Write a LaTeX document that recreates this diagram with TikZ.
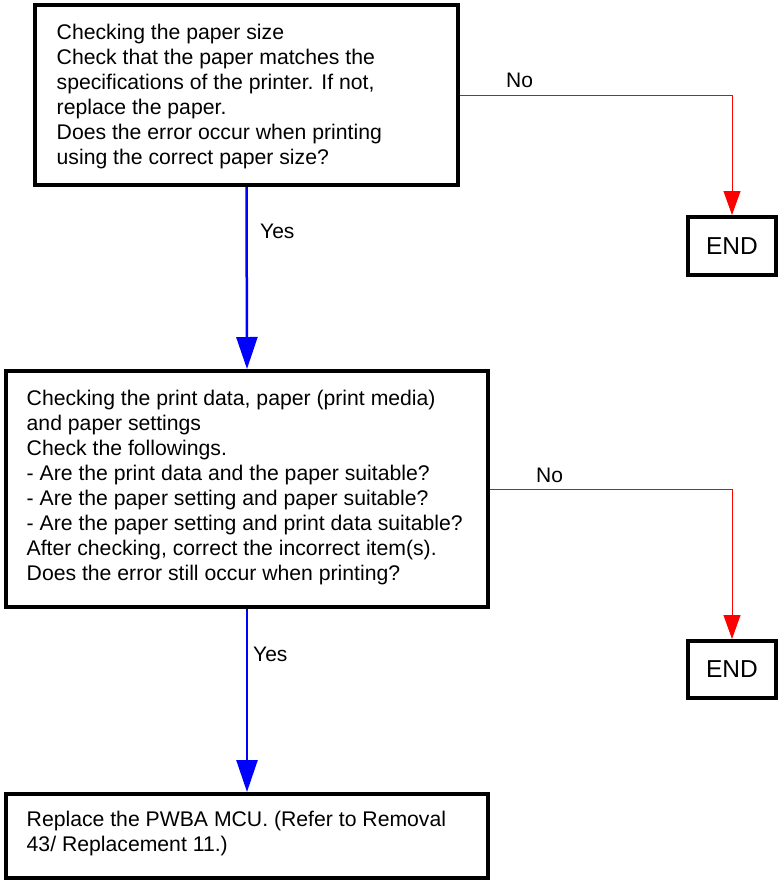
\documentclass[tikz,border=0pt]{standalone}
\usepackage{fontspec}
\setmainfont{Liberation Sans}
\usetikzlibrary{arrows.meta}
\begin{document}
\begin{tikzpicture}[x=1pt,y=-1pt,
  box/.style={draw=black, line width=4pt, rectangle, inner sep=0pt},
  txt/.style={align=left, inner sep=0pt, font=\fontsize{21.2pt}{25pt}\selectfont},
  lbl/.style={inner sep=0pt, font=\fontsize{21pt}{24pt}\selectfont},
  endtxt/.style={font=\fontsize{24.5pt}{28pt}\selectfont},
  yesarrow/.style={draw={rgb,255:red,0;green,0;blue,255}, line width=2.5pt, -{Triangle[width=21pt,length=32pt]}},
  noarrow/.style={draw={rgb,255:red,255;green,0;blue,0}, line width=1pt, -{Triangle[width=17pt,length=24pt]}}
]
\useasboundingbox (0,0) rectangle (778,884);
\fill[white] (0,0) rectangle (778,884);

% boxes
\node[box, minimum width=423pt, minimum height=180pt] (b1) at (246.5,95) {};
\node[box, minimum width=482pt, minimum height=236pt] (b2) at (247,489) {};
\node[box, minimum width=482pt, minimum height=84pt] (b3) at (247,836) {};
\node[box, minimum width=88pt, minimum height=58pt, endtxt] (e1) at (732,246) {END};
\node[box, minimum width=88pt, minimum height=57pt, endtxt] (e2) at (732,669.5) {END};

% texts
\node[txt, anchor=west] (t1) at ([xshift=23.5pt,yshift=-2pt]b1.west) {Checking the paper size\\Check that the paper matches the\\specifications of the printer. If not,\\replace the paper.\\Does the error occur when printing\\using the correct paper size?};
\node[txt, anchor=west] (t2) at ([xshift=22.5pt,yshift=1pt]b2.west) {Checking the print data, paper (print media)\\and paper settings\\Check the followings.\\- Are the print data and the paper suitable?\\- Are the paper setting and paper suitable?\\- Are the paper setting and print data suitable?\\After checking, correct the incorrect item(s).\\Does the error still occur when printing?};
\node[txt, anchor=west] (t3) at ([xshift=22.5pt,yshift=2pt]b3.west) {Replace the PWBA MCU. (Refer to Removal\\43/ Replacement 11.)};

% connectors
\draw[yesarrow] (b1.south) -- (b2.north);
\draw[yesarrow] (b2.south) -- (b3.north);
\draw[noarrow] (b1.east) -| (e1.north);
\draw[noarrow] (b2.east) -| (e2.north);

% labels
\node[lbl, anchor=base west] (l1) at (506,87) {No};
\node[lbl, anchor=base west] (l2) at (536,482) {No};
\node[lbl, anchor=base west] (l3) at (260,238) {Yes};
\node[lbl, anchor=base west] (l4) at (253,661) {Yes};
\end{tikzpicture}
\end{document}
